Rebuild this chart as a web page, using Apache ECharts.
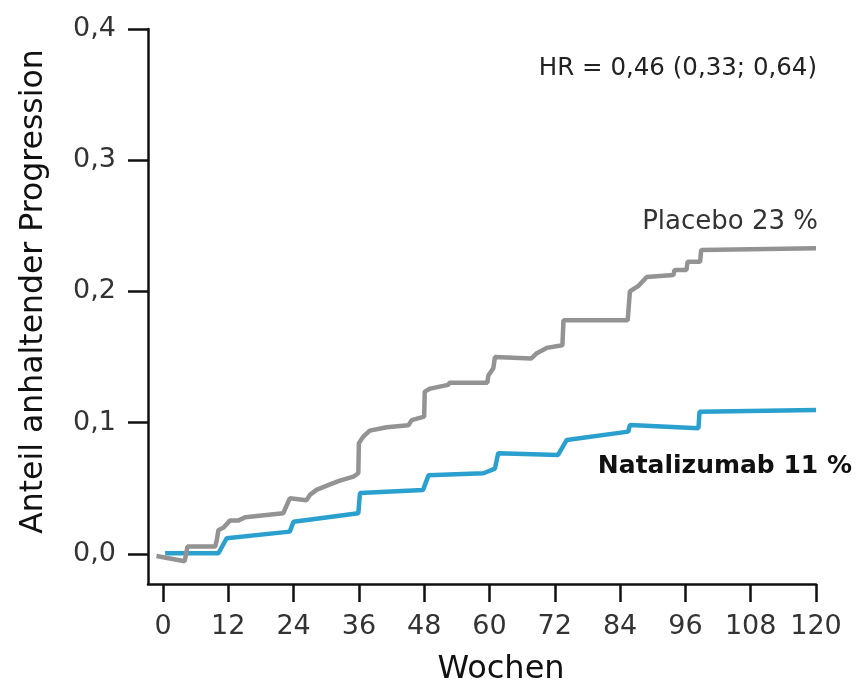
<!DOCTYPE html>
<html>
<head>
<meta charset="UTF-8">
<title>Anteil anhaltender Progression</title>
<script src="https://cdn.jsdelivr.net/npm/echarts@6/dist/echarts.min.js"></script>
</head>
<body style="margin:0;background:#fff">
<div id="main" style="width:856px;height:685px;"></div>
<script type="text/javascript">
// Wochen (x) und Anteil (y)
var xTicks = [0, 12, 24, 36, 48, 60, 72, 84, 96, 108, 120];
var yTicks = [0, 0.1, 0.2, 0.3, 0.4];

var placeboWeeks = [-1.2, 4.0, 4.5, 9.6, 9.9, 10.2, 11.1, 12.3, 13.8, 15.1, 22.1, 23.3, 26.4, 27.0, 28.2, 30.7, 32.5, 35.0, 35.9, 36.0, 36.8, 38.0, 41.1, 45.1, 45.7, 48.0, 48.1, 49.1, 52.4, 52.7, 59.6, 59.8, 60.7, 61.0, 67.7, 68.7, 70.5, 73.4, 73.6, 85.4, 85.8, 87.3, 88.9, 93.8, 94.0, 96.2, 96.4, 98.7, 98.9, 120.0];
var placeboValues = [-0.0015, -0.0055, 0.0056, 0.0056, 0.0107, 0.0183, 0.020, 0.0254, 0.0254, 0.028, 0.031, 0.0424, 0.041, 0.045, 0.0488, 0.053, 0.0559, 0.0589, 0.0615, 0.0843, 0.0894, 0.094, 0.0965, 0.098, 0.102, 0.1046, 0.1237, 0.126, 0.1288, 0.1305, 0.1305, 0.136, 0.1415, 0.150, 0.149, 0.153, 0.157, 0.159, 0.178, 0.178, 0.200, 0.204, 0.211, 0.2126, 0.2164, 0.2164, 0.2227, 0.2227, 0.2316, 0.233];

var nataWeeks = [0.4, 10.2, 11.7, 23.3, 24.0, 35.9, 36.2, 47.8, 48.8, 58.9, 61.0, 61.6, 72.6, 74.2, 85.5, 85.8, 98.4, 98.6, 120.0];
var nataValues = [0.0005, 0.0005, 0.012, 0.017, 0.0246, 0.031, 0.0465, 0.0488, 0.060, 0.0615, 0.065, 0.0767, 0.0754, 0.0869, 0.0932, 0.0983, 0.0958, 0.1084, 0.1097];

var hrText = 'HR = 0,46 (0,33; 0,64)';
var placeboLabel = 'Placebo 23 %';
var nataLabel = 'Natalizumab 11 %';

function zip(xs, ys) {
    var out = [];
    for (var i = 0; i < xs.length; i++) {
        out.push([xs[i], ys[i]]);
    }
    return out;
}

var font = 'DejaVu Sans';
var myChart = echarts.init(document.getElementById('main'));

var option = {
    animation: false,
    backgroundColor: '#fff',
    grid: {
        left: 148,
        right: 40,
        top: 29,
        bottom: 101,
        containLabel: false,
        outerBoundsMode: 'none'
    },
    xAxis: {
        type: 'value',
        min: -2.75,
        max: 120,
        name: 'Wochen',
        nameLocation: 'middle',
        nameGap: 70,
        nameTextStyle: { fontFamily: font, fontSize: 32, color: '#111', padding: [0, 0, 0, 38] },
        axisLine: { show: true, onZero: false, lineStyle: { color: '#111', width: 2.5 } },
        axisTick: { show: true, inside: false, length: 18, customValues: xTicks, lineStyle: { color: '#111', width: 2.5 } },
        axisLabel: { customValues: xTicks, margin: 29, fontFamily: font, fontSize: 27, color: '#333' },
        splitLine: { show: false }
    },
    yAxis: {
        type: 'value',
        min: -0.0229,
        max: 0.4,
        name: 'Anteil anhaltender Progression',
        nameLocation: 'middle',
        nameRotate: 90,
        nameGap: 98,
        nameTextStyle: { fontFamily: font, fontSize: 31.5, color: '#111', padding: [0, 0, 0, 30] },
        axisLine: { show: true, onZero: false, lineStyle: { color: '#111', width: 2.5 } },
        axisTick: { show: true, inside: false, length: 20, customValues: yTicks, lineStyle: { color: '#111', width: 2.5 } },
        axisLabel: {
            customValues: yTicks,
            margin: 32,
            fontFamily: font,
            fontSize: 27,
            color: '#333',
            formatter: function (v) { return v.toFixed(1).replace('.', ','); }
        },
        splitLine: { show: false }
    },
    series: [
        {
            name: 'Natalizumab',
            type: 'line',
            data: zip(nataWeeks, nataValues),
            showSymbol: false,
            lineStyle: { color: '#2aa0cf', width: 4.5 },
            itemStyle: { color: '#2aa0cf' }
        },
        {
            name: 'Placebo',
            type: 'line',
            data: zip(placeboWeeks, placeboValues),
            showSymbol: false,
            lineStyle: { color: '#939393', width: 4.5 },
            itemStyle: { color: '#939393' }
        }
    ],
    graphic: [
        {
            type: 'text', right: 39, top: 56,
            style: { text: hrText, fontFamily: font, fontSize: 24.5, fill: '#222' }
        },
        {
            type: 'text', right: 38, top: 209,
            style: { text: placeboLabel, fontFamily: font, fontSize: 26, fill: '#333' }
        },
        {
            type: 'text', right: 4, top: 454,
            style: { text: nataLabel, fontFamily: font, fontSize: 25, fontWeight: 'bold', fill: '#111' }
        }
    ]
};
myChart.setOption(option);
</script>
</body>
</html>
